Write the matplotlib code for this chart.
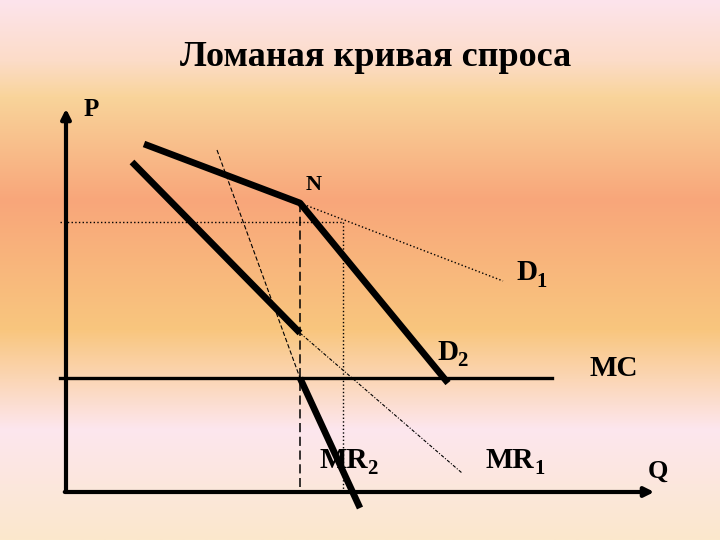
import numpy as np
import matplotlib.pyplot as plt
from matplotlib.colors import LinearSegmentedColormap

plt.rcParams['font.family'] = ['Liberation Serif', 'DejaVu Serif']

# координаты в пикселях картинки (ось y вниз)
# ломаная кривая спроса: верхняя часть + N + D2
demand_x = [144, 300, 448]
demand_y = [144, 203, 383]
# продолжение D1 за точкой N
d1_x = [300, 503]
d1_y = [203, 281]
# MR: верхний участок (толстый) и нижний участок (толстый)
mr_top_x = [132, 300]
mr_top_y = [162, 333]
mr_bot_x = [300, 360]
mr_bot_y = [378, 508]
# продолжения MR1 и MR2 (тонкие)
mr1_x = [300, 462]
mr1_y = [333, 473]
mr2_x = [217, 300]
mr2_y = [150, 378]
# MC
mc_x = [60, 552]
mc_y = [378, 378]
# вспомогательные линии
price_y = 222
q1_x = 343
q2_x = 300

# фон: вертикальный градиент
grad_pos = [0, 60, 97, 200, 330, 430, 540]
grad_col = ['#fde4ec', '#fcdcc8', '#f9d49a', '#f8a67a', '#f9c67e', '#fde6ee', '#fbe8cc']
cmap = LinearSegmentedColormap.from_list('bg', list(zip(np.array(grad_pos) / 540, grad_col)), N=1024)

fig = plt.figure(figsize=(7.2, 5.4), dpi=100)
ax = fig.add_axes([0, 0, 1, 1])
ax.imshow(np.linspace(0, 1, 540).reshape(-1, 1), aspect='auto', cmap=cmap,
          extent=[0, 720, 540, 0], interpolation='bilinear', zorder=0)
ax.set_xlim(0, 720)
ax.set_ylim(540, 0)
ax.axis('off')

# оси
ax.annotate('', xy=(66, 106), xytext=(66, 494),
            arrowprops=dict(arrowstyle='-|>', lw=3, color='black', mutation_scale=14))
ax.annotate('', xy=(657, 492), xytext=(62, 492),
            arrowprops=dict(arrowstyle='-|>', lw=3, color='black', mutation_scale=14))

# вспомогательные пунктиры
ax.plot([60, q1_x], [price_y, price_y], ls=':', lw=1, color='black')
ax.plot([q1_x, q1_x], [price_y, 490], ls=':', lw=1, color='black')
ax.plot([q2_x, q2_x], [203, 487], ls=(0, (6, 3)), lw=1.1, color='black')
ax.plot(d1_x, d1_y, ls=':', lw=1, color='black')
ax.plot(mr1_x, mr1_y, ls=(0, (3, 1.5, 1, 1.5)), lw=0.8, color='black')
ax.plot(mr2_x, mr2_y, ls=(0, (4, 2)), lw=0.8, color='black')

# MC
ax.plot(mc_x, mc_y, lw=2.4, color='black')

# толстые линии
ax.plot(demand_x, demand_y, lw=4.8, color='black', solid_capstyle='butt')
ax.plot(mr_top_x, mr_top_y, lw=4.8, color='black', solid_capstyle='butt')
ax.plot(mr_bot_x, mr_bot_y, lw=4.8, color='black', solid_capstyle='butt')

# подписи
bold = dict(fontweight='bold', color='black')
ax.text(376, 57, 'Ломаная кривая спроса', fontsize=26, ha='center', va='center', **bold)
ax.text(84, 110, 'P', fontsize=18, ha='left', va='center', **bold)
ax.text(306, 185, 'N', fontsize=16, ha='left', va='center', **bold)
ax.text(516, 272, 'D', fontsize=21, ha='left', va='center', **bold)
ax.text(536, 282, '1', fontsize=15, ha='left', va='center', **bold)
ax.text(437, 352, 'D', fontsize=21, ha='left', va='center', **bold)
ax.text(457, 361, '2', fontsize=15, ha='left', va='center', **bold)
ax.text(589, 369, 'MC', fontsize=21, ha='left', va='center', **bold)
ax.text(319, 461, 'MR', fontsize=21, ha='left', va='center', **bold)
ax.text(367, 469, '2', fontsize=15, ha='left', va='center', **bold)
ax.text(486, 461, 'MR', fontsize=21, ha='left', va='center', **bold)
ax.text(534, 469, '1', fontsize=15, ha='left', va='center', **bold)
ax.text(648, 471, 'Q', fontsize=19, ha='left', va='center', **bold)

fig.savefig('out.png', dpi=100)
